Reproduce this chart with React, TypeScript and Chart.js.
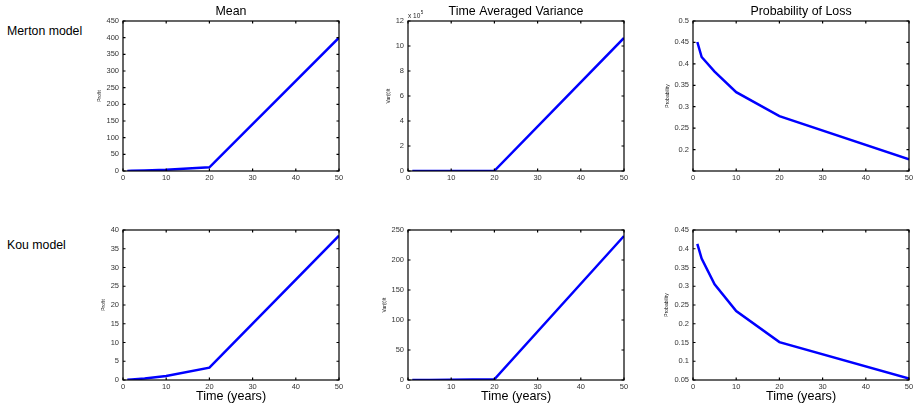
import React, { useEffect, useRef } from 'react';
import { Chart, registerables } from 'chart.js';
Chart.register(...registerables);

// ---- data ----
const years = [1, 2, 5, 10, 20, 50];
const xTicks = [0, 10, 20, 30, 40, 50];
const mertonMean = [0.3, 0.7, 1.8, 3.8, 11, 400];
const mertonVar = [0, 0, 0, 0.001, 0.02, 10.65]; // x 10^5
const mertonProb = [0.451, 0.416, 0.382, 0.334, 0.278, 0.177];
const kouMean = [0.05, 0.12, 0.4, 1.05, 3.3, 38.5];
const kouVar = [0.05, 0.1, 0.2, 0.4, 1.2, 240];
const kouProb = [0.413, 0.374, 0.305, 0.234, 0.151, 0.054];
const titles = ['Mean', 'Time Averaged Variance', 'Probability of Loss'];
const yLabels = ['Profit', 'Var(t)/t', 'Probability'];
const rowLabels = ['Merton model', 'Kou model'];
const xLabel = 'Time (years)';

const FONT = "'Liberation Sans', Arial, Helvetica, sans-serif";

type Panel = {
  left: number; top: number; w: number; h: number;
  values: number[]; ymin: number; ymax: number; ystep: number;
  title?: string; ylabel: string; ylOff: number; xlabel?: string;
  exponent?: boolean; hideFirst?: boolean; xh: number;
};

const colLefts = [123, 407.5, 692.5];
const rowTops = [21, 230];
const PW = 216;
const PH = 150;
const YW = 60;
const TOPPAD = 21;
const RIGHTPAD = 12;

const panels: Panel[] = [
  { left: colLefts[0], top: rowTops[0], w: PW, h: PH, values: mertonMean, ymin: 0, ymax: 450, ystep: 50, title: titles[0], ylabel: yLabels[0], ylOff: 23, xh: 19 },
  { left: colLefts[1], top: rowTops[0], w: PW, h: PH, values: mertonVar, ymin: 0, ymax: 12, ystep: 2, title: titles[1], ylabel: yLabels[1], ylOff: 19, exponent: true, xh: 19 },
  { left: colLefts[2], top: rowTops[0], w: PW, h: PH, values: mertonProb, ymin: 0.15, ymax: 0.5, ystep: 0.05, title: titles[2], ylabel: yLabels[2], ylOff: 25, hideFirst: true, xh: 19 },
  { left: colLefts[0], top: rowTops[1], w: PW, h: PH, values: kouMean, ymin: 0, ymax: 40, ystep: 5, ylabel: yLabels[0], ylOff: 19, xlabel: xLabel, xh: 28 },
  { left: colLefts[1], top: rowTops[1], w: PW, h: PH, values: kouVar, ymin: 0, ymax: 250, ystep: 50, ylabel: yLabels[1], ylOff: 23, xlabel: xLabel, xh: 28 },
  { left: colLefts[2], top: rowTops[1], w: PW, h: PH, values: kouProb, ymin: 0.05, ymax: 0.45, ystep: 0.05, ylabel: yLabels[2], ylOff: 26, xlabel: xLabel, xh: 28 },
];

function fmt(v: number) {
  return String(Number(v.toFixed(4)));
}

const matlabPlugin = {
  id: 'matlabAxes',
  afterDraw(chart: any, _args: any, opts: any) {
    const p: Panel = opts.panel;
    const { ctx, chartArea: a } = chart;
    const xs = chart.scales.x;
    const ys = chart.scales.y;
    ctx.save();
    ctx.strokeStyle = '#000';
    ctx.lineWidth = 1.2;
    ctx.strokeRect(a.left, a.top, a.right - a.left, a.bottom - a.top);
    const tl = 2.5;
    ctx.beginPath();
    for (const t of xTicks) {
      const x = xs.getPixelForValue(t);
      ctx.moveTo(x, a.bottom); ctx.lineTo(x, a.bottom - tl);
      ctx.moveTo(x, a.top); ctx.lineTo(x, a.top + tl);
    }
    ys.ticks.forEach((t: any) => {
      const y = ys.getPixelForValue(t.value);
      ctx.moveTo(a.left, y); ctx.lineTo(a.left + tl, y);
      ctx.moveTo(a.right, y); ctx.lineTo(a.right - tl, y);
    });
    ctx.stroke();
    ctx.fillStyle = '#000';
    if (p.title) {
      ctx.font = `12.4px ${FONT}`;
      ctx.textAlign = 'center';
      ctx.textBaseline = 'middle';
      ctx.fillText(p.title, (a.left + a.right) / 2, a.top - 9.5);
    }
    if (p.exponent) {
      ctx.fillStyle = '#222';
      ctx.font = `6.5px ${FONT}`;
      ctx.textAlign = 'left';
      ctx.textBaseline = 'alphabetic';
      ctx.fillText('x 10', a.left, a.top - 3.5);
      const w = ctx.measureText('x 10').width;
      ctx.font = `4.5px ${FONT}`;
      ctx.fillText('5', a.left + w + 0.5, a.top - 7);
    }
    ctx.fillStyle = '#222';
    ctx.font = `5px ${FONT}`;
    ctx.textAlign = 'center';
    ctx.textBaseline = 'middle';
    ctx.save();
    ctx.translate(a.left - p.ylOff, (a.top + a.bottom) / 2);
    ctx.rotate(-Math.PI / 2);
    ctx.fillText(p.ylabel, 0, 0);
    ctx.restore();
    if (p.xlabel) {
      ctx.fillStyle = '#000';
      ctx.font = `12.6px ${FONT}`;
      ctx.fillText(p.xlabel, (a.left + a.right) / 2, a.bottom + 16.7);
    }
    ctx.restore();
  },
};

function PanelChart({ p }: { p: Panel }) {
  const ref = useRef<HTMLCanvasElement>(null);
  const cw = YW + p.w + RIGHTPAD;
  const ch = TOPPAD + p.h + p.xh;
  useEffect(() => {
    if (!ref.current) return;
    const chart = new Chart(ref.current, {
      type: 'line',
      data: {
        datasets: [{
          data: years.map((x, i) => ({ x, y: p.values[i] })),
          borderColor: '#0000ff',
          borderWidth: 2.5,
          pointRadius: 0,
          tension: 0,
          fill: false,
        }],
      },
      options: {
        responsive: false,
        animation: false,
        devicePixelRatio: 1,
        layout: { padding: { top: TOPPAD, right: RIGHTPAD, left: 0, bottom: 0 } },
        plugins: {
          legend: { display: false },
          tooltip: { enabled: false },
          title: { display: false },
          matlabAxes: { panel: p },
        } as any,
        scales: {
          x: {
            type: 'linear',
            min: 0,
            max: 50,
            afterBuildTicks: (s: any) => { s.ticks = xTicks.map((v) => ({ value: v })); },
            afterFit: (s: any) => { s.height = p.xh; },
            ticks: {
              font: { family: FONT, size: 7.5 },
              color: '#333',
              padding: 2,
              maxRotation: 0,
              autoSkip: false,
              callback: (v: any) => String(v),
            },
            grid: { display: false, drawTicks: false },
            border: { display: false },
          },
          y: {
            type: 'linear',
            min: p.ymin,
            max: p.ymax,
            afterFit: (s: any) => { s.width = YW; },
            ticks: {
              stepSize: p.ystep,
              font: { family: FONT, size: 7.5 },
              color: '#333',
              padding: 4,
              autoSkip: false,
              callback: (v: any) => {
                const n = Number(v);
                if (p.hideFirst && Math.abs(n - p.ymin) < 1e-9) return '';
                return fmt(n);
              },
            },
            grid: { display: false, drawTicks: false },
            border: { display: false },
          },
        },
      },
      plugins: [matlabPlugin],
    } as any);
    return () => chart.destroy();
  }, []);
  return (
    <canvas
      ref={ref}
      width={cw}
      height={ch}
      style={{ position: 'absolute', left: p.left - YW, top: p.top - TOPPAD, width: cw, height: ch }}
    />
  );
}

export default function App() {
  return (
    <div style={{ position: 'absolute', left: 0, top: 0, width: 916, height: 408, background: '#fff', overflow: 'hidden' }}>
      <div style={{ position: 'absolute', left: 7, top: 24, font: `12.3px ${FONT}`, lineHeight: '15px', color: '#000', whiteSpace: 'nowrap' }}>{rowLabels[0]}</div>
      <div style={{ position: 'absolute', left: 7, top: 237.5, font: `12.3px ${FONT}`, lineHeight: '15px', color: '#000', whiteSpace: 'nowrap' }}>{rowLabels[1]}</div>
      {panels.map((p, i) => <PanelChart key={i} p={p} />)}
    </div>
  );
}
